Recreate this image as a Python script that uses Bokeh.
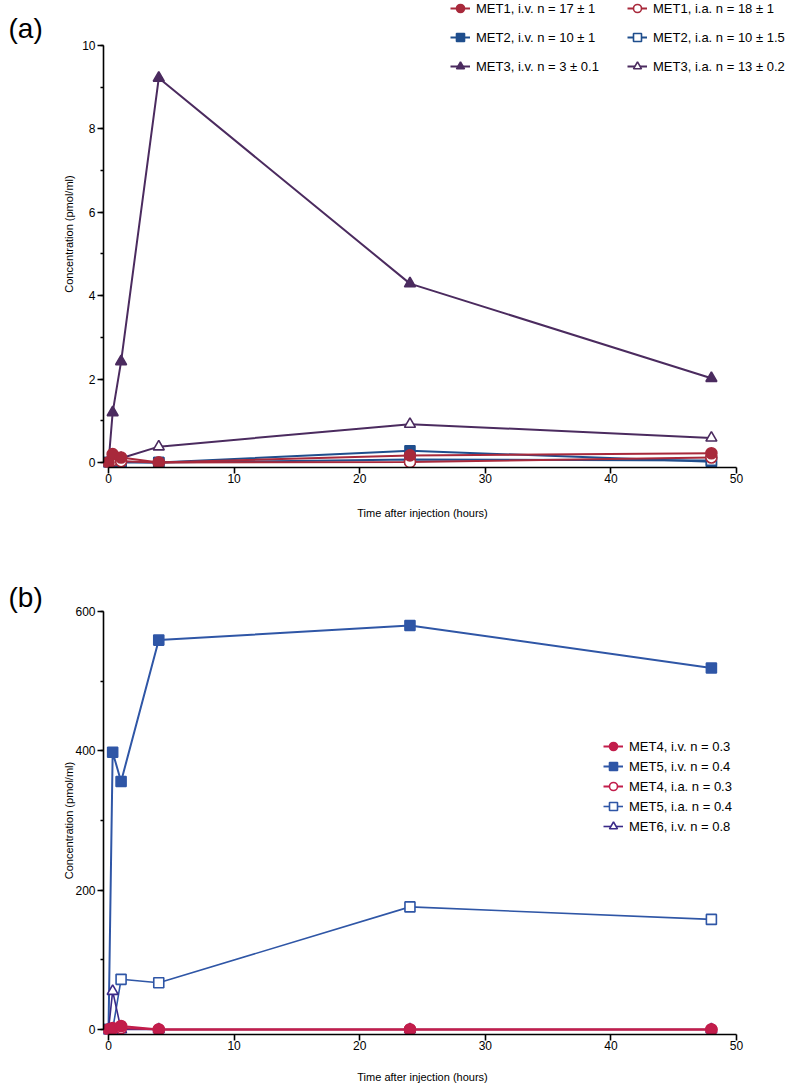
from bokeh.plotting import figure
from bokeh.models import Range1d, Legend, LegendItem, Label, SingleIntervalTicker
from bokeh.layouts import column
from bokeh.embed import file_html
from bokeh.resources import INLINE

FONT = "Liberation Sans"

# ---------------- data ----------------
time_h = [0, 0.33, 1, 4, 24, 48]

# panel (a)
met1_iv = [0, 0.20, 0.12, 0, 0.17, 0.22]
met1_ia = [0, 0.05, 0.03, 0, 0.01, 0.12]
met2_iv = [0, 0, 0, 0, 0.28, 0.02]
met2_ia = [0, 0.02, 0.02, 0, 0.07, 0.05]
met3_iv = [0, 1.2, 2.42, 9.22, 4.29, 2.02]
met3_ia = [0, 0.05, 0.1, 0.38, 0.92, 0.59]

labels_a_iv = ["MET1, i.v. n = 17 \u00b1 1", "MET2, i.v. n = 10 \u00b1 1", "MET3, i.v. n = 3 \u00b1 0.1"]
labels_a_ia = ["MET1, i.a. n = 18 \u00b1 1", "MET2, i.a. n = 10 \u00b1 1.5", "MET3, i.a. n = 13 \u00b1 0.2"]

# panel (b)
met4_iv = [0, 2, 5, 0, 0, 0]
met5_iv = [0, 398, 356, 559, 580, 519]
met4_ia = [0, 1, 2, 0, 0, 0]
met5_ia = [0, 0, 72, 67, 176, 158]
met6_iv = [0, 55, 0, 0, 0, 0]

labels_b = ["MET4, i.v. n = 0.3", "MET5, i.v. n = 0.4", "MET4, i.a. n = 0.3",
            "MET5, i.a. n = 0.4", "MET6, i.v. n = 0.8"]

x_label = "Time after injection (hours)"
y_label = "Concentration (pmol/ml)"

# colours
C1 = "#A8293B"
C2 = "#1F4E8D"
C3 = "#4B2B5F"
C4 = "#C21D4B"
C5 = "#2F56A6"
C6 = "#3A2A88"


def style(p, y_interval, y_bounds, y_standoff, xlab_y):
    p.xaxis.ticker = SingleIntervalTicker(interval=10, num_minor_ticks=0)
    p.yaxis.ticker = SingleIntervalTicker(interval=y_interval, num_minor_ticks=2)
    p.xaxis.bounds = (0, 50)
    p.yaxis.bounds = y_bounds
    for ax in (p.xaxis[0], p.yaxis[0]):
        ax.axis_line_width = 1.6
        ax.axis_line_color = "black"
        ax.major_tick_line_width = 1.6
        ax.minor_tick_line_width = 1.6
        ax.major_tick_out = 6
        ax.major_tick_in = 0
        ax.minor_tick_out = 3
        ax.minor_tick_in = 0
        ax.major_label_text_font = FONT
        ax.major_label_text_font_size = "12px"
        ax.major_label_text_color = "black"
        ax.axis_label_text_font = FONT
        ax.axis_label_text_font_size = "11px"
        ax.axis_label_text_font_style = "normal"
        ax.axis_label_text_color = "black"
    p.xaxis.major_label_standoff = 0
    p.yaxis.major_label_standoff = 2
    p.yaxis.axis_label = y_label
    p.yaxis.axis_label_standoff = y_standoff
    # x-axis title centred on the axis line (0..50), drawn in the bottom panel
    p.add_layout(Label(x=25, y=xlab_y, text=x_label, text_font=FONT, text_font_size="11px",
                       text_align="center", text_baseline="middle", text_color="black"), "below")
    p.xgrid.visible = False
    p.ygrid.visible = False
    p.outline_line_color = None
    p.background_fill_color = "white"
    p.border_fill_color = "white"


def series(p, y, color, marker, filled, lw=2.0, size=10):
    ln = p.line(time_h, y, line_color=color, line_width=lw)
    sc = p.scatter(time_h, y, marker=marker, size=size,
                   fill_color=color if filled else "white",
                   line_color=color, line_width=1.6)
    return [ln, sc]


def make_legend(items, x, y, spacing, standoff):
    lg = Legend(items=items, location=(x, y), orientation="vertical")
    lg.glyph_width = 20
    lg.glyph_height = 20
    lg.label_height = 20
    lg.spacing = spacing
    lg.padding = 0
    lg.margin = 0
    lg.label_standoff = standoff
    lg.label_text_font = FONT
    lg.label_text_font_size = "13px"
    lg.label_text_color = "black"
    lg.border_line_color = None
    lg.background_fill_alpha = 0
    return lg


# ---------------- panel (a) ----------------
pa = figure(width=786, height=524, output_backend="svg", toolbar_location=None,
            x_range=Range1d(-0.4, 53.98), y_range=Range1d(-0.12, 11.079),
            min_border_left=103, min_border_right=0, min_border_top=0, min_border_bottom=57)
style(pa, 2, (0, 10), 4, -1.223)

r_m2iv = series(pa, met2_iv, C2, "square", True)
r_m2ia = series(pa, met2_ia, C2, "square", False)
r_m3iv = series(pa, met3_iv, C3, "triangle", True, size=11)
r_m3ia = series(pa, met3_ia, C3, "triangle", False, size=11)
r_m1ia = series(pa, met1_ia, C1, "circle", False, size=11)
r_m1iv = series(pa, met1_iv, C1, "circle", True, size=11)

leg_a1 = make_legend([LegendItem(label=labels_a_iv[0], renderers=r_m1iv),
                      LegendItem(label=labels_a_iv[1], renderers=r_m2iv),
                      LegendItem(label=labels_a_iv[2], renderers=r_m3iv)],
                     347, 391, 9, 6)
leg_a2 = make_legend([LegendItem(label=labels_a_ia[0], renderers=r_m1ia),
                      LegendItem(label=labels_a_ia[1], renderers=r_m2ia),
                      LegendItem(label=labels_a_ia[2], renderers=r_m3ia)],
                     524, 391, 9, 6)
pa.add_layout(leg_a1)
pa.add_layout(leg_a2)

pa.add_layout(Label(x=-7.96, y=10.79, text="(a)", text_font=FONT, text_font_size="28px",
                    text_baseline="top", text_align="left", text_color="black"), "left")

# ---------------- panel (b) ----------------
pb = figure(width=786, height=561, output_backend="svg", toolbar_location=None,
            x_range=Range1d(-0.4, 53.98), y_range=Range1d(-7.2, 607.2),
            min_border_left=103, min_border_right=0, min_border_top=82, min_border_bottom=51)
style(pb, 200, (0, 600), -3, -68.9)

r_m5iv = series(pb, met5_iv, C5, "square", True)
r_m5ia = series(pb, met5_ia, C5, "square", False, lw=1.6)
r_m6iv = series(pb, met6_iv, C6, "triangle", False, lw=1.6, size=11)
r_m4ia = series(pb, met4_ia, C4, "circle", False, size=11)
r_m4iv = series(pb, met4_iv, C4, "circle", True, size=11)

leg_b = make_legend([LegendItem(label=labels_b[0], renderers=r_m4iv),
                     LegendItem(label=labels_b[1], renderers=r_m5iv),
                     LegendItem(label=labels_b[2], renderers=r_m4ia),
                     LegendItem(label=labels_b[3], renderers=r_m5ia),
                     LegendItem(label=labels_b[4], renderers=r_m6iv)],
                    500, 198, 0, 6)
pb.add_layout(leg_b)

pb.add_layout(Label(x=-7.96, y=643, text="(b)", text_font=FONT, text_font_size="28px",
                    text_baseline="top", text_align="left", text_color="black"), "left")

layout = column(pa, pb, spacing=0)
open("out.html", "w").write(file_html(layout, INLINE))
